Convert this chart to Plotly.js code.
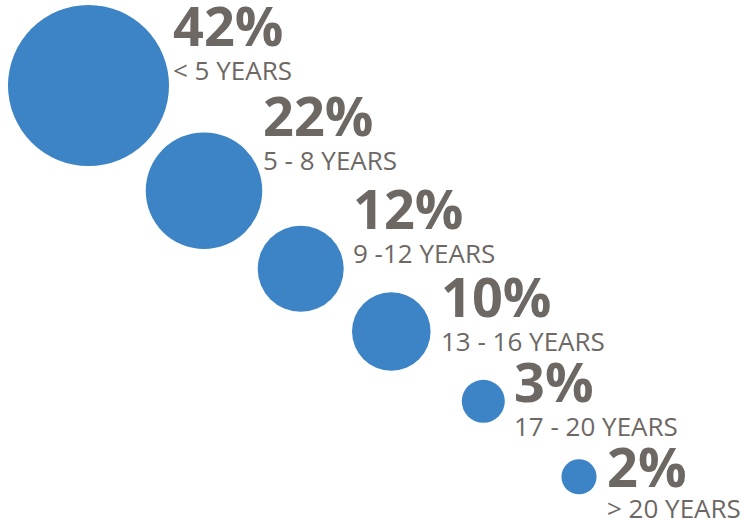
<!DOCTYPE html>
<html>
<head>
<meta charset="utf-8">
<script src="https://cdn.plot.ly/plotly-3.0.1.min.js"></script>
<style>
html, body { margin: 0; padding: 0; background: #ffffff; }
#chart { width: 744px; height: 523px; }
</style>
</head>
<body>
<div id="chart"></div>
<script>
// ---- data ----
const categories = ['< 5 YEARS', '5 - 8 YEARS', '9 -12 YEARS', '13 - 16 YEARS', '17 - 20 YEARS', '> 20 YEARS'];
const shares = [42, 22, 12, 10, 3, 2];

// ---- layout positions (pixel-like axis units) ----
const bubbleX = [88.5, 204, 300.7, 391.3, 483.3, 579];
const bubbleY = [85.5, 190.7, 268.8, 331.5, 401.3, 476.8];
const labelX = [172, 262, 352, 440, 513, 606];
const pctY = [24.7, 114.7, 208, 296.3, 381.3, 465.7];
const catY = [69.9, 159.9, 253.2, 340.9, 425.9, 507.9];

const blue = '#3c84c6';
const grey = '#6d6864';

function esc(s) { return s.replace(/&/g, '&amp;').replace(/</g, '&lt;').replace(/>/g, '&gt;'); }

const trace = {
  type: 'scatter',
  mode: 'markers',
  x: bubbleX,
  y: bubbleY,
  text: categories,
  marker: {
    size: shares,
    sizemode: 'area',
    sizeref: 0.00324,
    color: blue,
    opacity: 1,
    line: { width: 0 }
  },
  hoverinfo: 'text',
  showlegend: false
};

const annotations = [];
shares.forEach((v, i) => {
  annotations.push({
    x: labelX[i], y: pctY[i], xref: 'x', yref: 'y',
    xanchor: 'left', yanchor: 'middle',
    text: v + '%', showarrow: false, borderpad: 0,
    font: { family: '"Open Sans", sans-serif', size: 54, color: grey, weight: 'bold' }
  });
  annotations.push({
    x: labelX[i], y: catY[i], xref: 'x', yref: 'y',
    xanchor: 'left', yanchor: 'middle',
    text: esc(categories[i]), showarrow: false, borderpad: 0,
    font: { family: '"Open Sans", sans-serif', size: 26, color: grey }
  });
});

const layout = {
  width: 744, height: 523,
  margin: { l: 0, r: 0, t: 0, b: 0, pad: 0 },
  paper_bgcolor: '#ffffff', plot_bgcolor: '#ffffff',
  xaxis: { range: [0, 744], visible: false, fixedrange: true },
  yaxis: { range: [523, 0], visible: false, fixedrange: true },
  annotations: annotations
};

Plotly.newPlot('chart', [trace], layout, { displayModeBar: false, staticPlot: true });
</script>
</body>
</html>
